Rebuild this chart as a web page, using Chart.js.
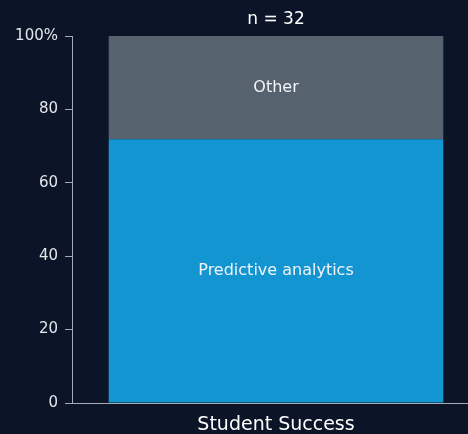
<!DOCTYPE html>
<html>
<head>
<meta charset="utf-8">
<script src="https://cdn.jsdelivr.net/npm/chart.js@4"></script>
<style>
  html, body { margin: 0; padding: 0; background: #0c1527; overflow: hidden; }
  #wrap { width: 480px; height: 434px; }
</style>
</head>
<body>
<div id="wrap"><canvas id="chart" width="480" height="434"></canvas></div>
<script>
// data
const categories = ['Student Success'];
const seriesNames = ['Predictive analytics', 'Other'];
const predictiveValues = [71.9];
const otherValues = [28.1];
const yTicks = [0, 20, 40, 60, 80, 100];
const titleText = 'n = 32';

const axisColor = '#a3abb6';
const textColor = '#e3e7ec';
const fontFamily = '"DejaVu Sans", sans-serif';

// title over the plot area, and series names inside each segment
const segmentLabels = {
  id: 'segmentLabels',
  afterDatasetsDraw(chart) {
    const ctx = chart.ctx;
    const area = chart.chartArea;
    ctx.save();
    ctx.textAlign = 'center';
    ctx.textBaseline = 'middle';
    ctx.fillStyle = '#ffffff';
    ctx.font = '17px ' + fontFamily;
    ctx.fillText(titleText, (area.left + area.right) / 2, 20);

    ctx.fillStyle = '#f2f4f7';
    ctx.font = '16px ' + fontFamily;
    chart.data.datasets.forEach((ds, i) => {
      chart.getDatasetMeta(i).data.forEach(bar => {
        const mid = (bar.y + bar.base) / 2;
        ctx.fillText(ds.label, bar.x, mid);
      });
    });
    ctx.restore();
  }
};

new Chart(document.getElementById('chart'), {
  type: 'bar',
  data: {
    labels: categories,
    datasets: [
      { label: seriesNames[0], data: predictiveValues, backgroundColor: '#1395d2' },
      { label: seriesNames[1], data: otherValues, backgroundColor: '#56626e' }
    ]
  },
  options: {
    responsive: false,
    animation: false,
    layout: { padding: { left: 0, right: 0, top: 36, bottom: 0 } },
    plugins: {
      legend: { display: false },
      tooltip: { enabled: false },
      title: { display: false }
    },
    datasets: { bar: { barPercentage: 0.82, categoryPercentage: 1 } },
    scales: {
      x: {
        stacked: true,
        grid: { display: false },
        border: { color: axisColor, width: 1 },
        afterFit: axis => { axis.height = 31; },
        ticks: {
          color: '#ffffff',
          padding: 3,
          font: { family: fontFamily, size: 19 }
        }
      },
      y: {
        stacked: true,
        min: 0,
        max: 100,
        afterBuildTicks: axis => { axis.ticks = yTicks.map(v => ({ value: v })); },
        afterFit: axis => { axis.width = 72; },
        grid: { drawOnChartArea: false, color: axisColor, tickLength: 7 },
        border: { color: axisColor, width: 1 },
        ticks: {
          color: textColor,
          padding: 7,
          font: { family: fontFamily, size: 15 },
          callback: v => v === 100 ? '100%' : v
        }
      }
    }
  },
  plugins: [segmentLabels]
});
</script>
</body>
</html>
